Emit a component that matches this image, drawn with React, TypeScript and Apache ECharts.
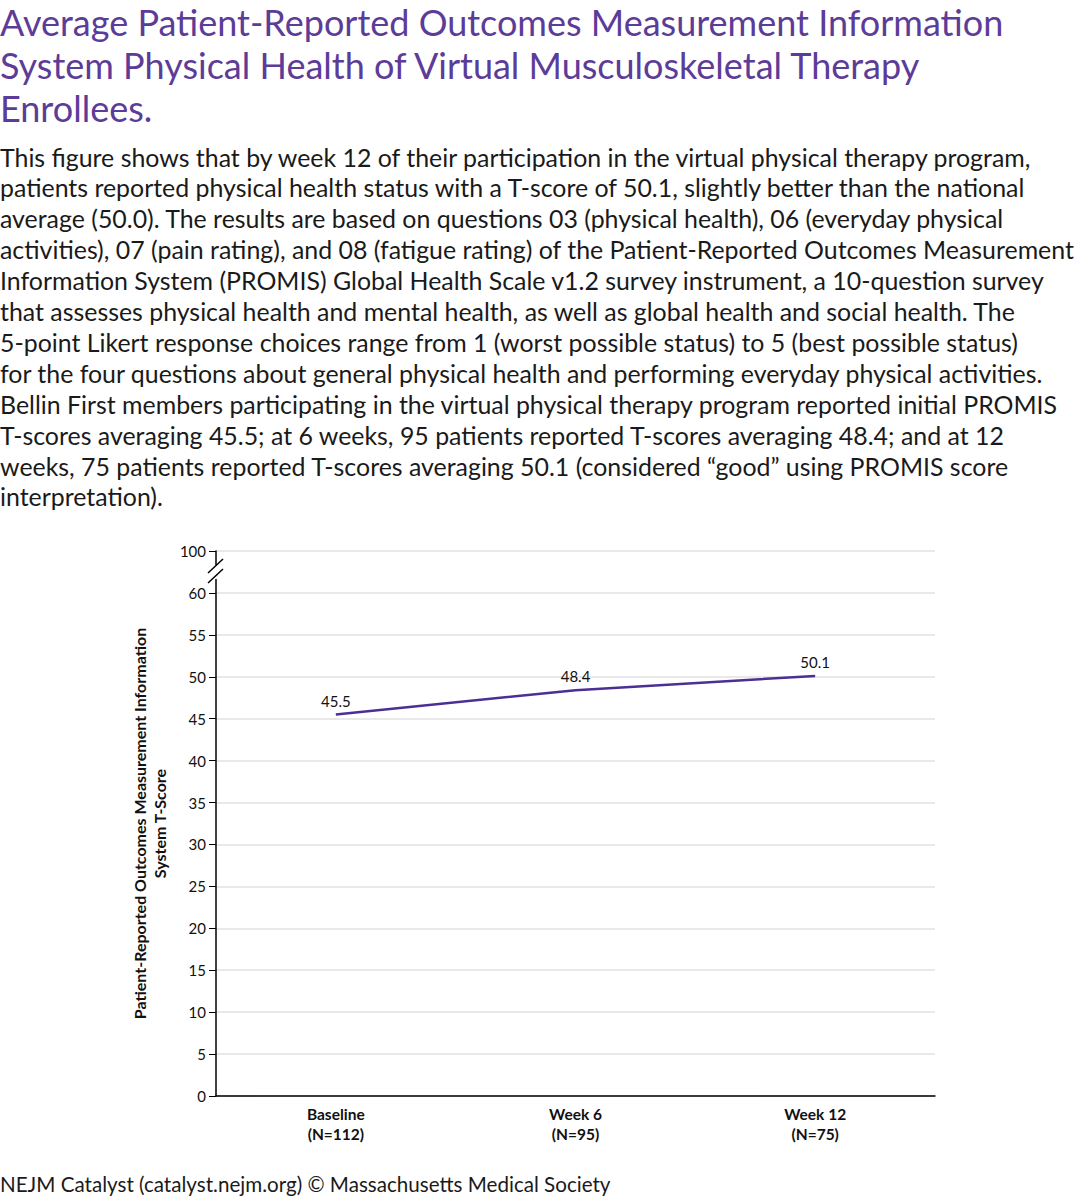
import React, { useEffect, useRef } from "react";
import * as echarts from "echarts";

const categories = ["Baseline\n(N=112)", "Week 6\n(N=95)", "Week 12\n(N=75)"];
const tScores = [45.5, 48.4, 50.1];
// axis values 0..65, where the top slot (65) is displayed as 100 after the axis break
const yTickLabels: Record<number, string> = { 65: "100" };

const titleLines = [
  "Average Patient-Reported Outcomes Measurement Information",
  "System Physical Health of Virtual Musculoskeletal Therapy",
  "Enrollees.",
];
const bodyLines = [
  "This figure shows that by week 12 of their participation in the virtual physical therapy program,",
  "patients reported physical health status with a T-score of 50.1, slightly better than the national",
  "average (50.0). The results are based on questions 03 (physical health), 06 (everyday physical",
  "activities), 07 (pain rating), and 08 (fatigue rating) of the Patient-Reported Outcomes Measurement",
  "Information System (PROMIS) Global Health Scale v1.2 survey instrument, a 10-question survey",
  "that assesses physical health and mental health, as well as global health and social health. The",
  "5-point Likert response choices range from 1 (worst possible status) to 5 (best possible status)",
  "for the four questions about general physical health and performing everyday physical activities.",
  "Bellin First members participating in the virtual physical therapy program reported initial PROMIS",
  "T-scores averaging 45.5; at 6 weeks, 95 patients reported T-scores averaging 48.4; and at 12",
  "weeks, 75 patients reported T-scores averaging 50.1 (considered \u201cgood\u201d using PROMIS score",
  "interpretation).",
];
const footer = "NEJM Catalyst (catalyst.nejm.org) \u00a9 Massachusetts Medical Society";
const yAxisName = "Patient-Reported Outcomes Measurement Information\nSystem T-Score";

const FONT = "Lato";
const PURPLE_TITLE = "#5c3c98";
const PURPLE_LINE = "#4a2f94";

export default function App() {
  const ref = useRef<HTMLDivElement>(null);
  useEffect(() => {
    if (!ref.current) return;
    const chart = echarts.init(ref.current, undefined, { renderer: "svg" });
    const textGraphics: any[] = [];
    titleLines.forEach((t, i) => {
      textGraphics.push({
        type: "text",
        left: 0,
        top: 4 + i * 43,
        style: { text: t, font: `36px ${FONT}`, fill: PURPLE_TITLE },
      });
    });
    bodyLines.forEach((t, i) => {
      textGraphics.push({
        type: "text",
        left: 0,
        top: 144 + i * 30.9,
        style: { text: t, font: `24.9px ${FONT}`, fill: "#1a1a1a" },
      });
    });
    textGraphics.push({
      type: "text",
      left: 0,
      top: 1173,
      style: { text: footer, font: `20.6px ${FONT}`, fill: "#1a1a1a" },
    });

    const option: any = {
      animation: false,
      backgroundColor: "#ffffff",
      textStyle: { fontFamily: FONT },
      grid: { left: 216, right: 144, top: 551, bottom: 104, containLabel: false },
      xAxis: {
        type: "category",
        data: categories,
        boundaryGap: true,
        axisLine: { lineStyle: { color: "#000", width: 1.5 } },
        axisTick: { alignWithLabel: true, length: 8, lineStyle: { color: "#000" } },
        axisLabel: {
          color: "#111",
          fontSize: 15.5,
          fontWeight: "bold",
          lineHeight: 20,
          margin: 8,
          fontFamily: FONT,
        },
        splitLine: { show: false },
      },
      yAxis: {
        type: "value",
        min: 0,
        max: 65,
        interval: 5,
        name: yAxisName,
        nameLocation: "middle",
        nameGap: 44,
        nameRotate: 90,
        nameTextStyle: { fontSize: 16, fontWeight: "bold", color: "#111", lineHeight: 20, fontFamily: FONT },
        axisLine: { show: true, lineStyle: { color: "#000", width: 1.5 } },
        axisTick: { show: true, length: 7, lineStyle: { color: "#000" } },
        axisLabel: {
          color: "#111",
          fontSize: 15,
          margin: 10,
          fontFamily: FONT,
          formatter: (v: number) => yTickLabels[v] ?? String(v),
        },
        splitLine: { show: true, lineStyle: { color: "#e2e2e2", width: 1.5 } },
      },
      series: [
        {
          type: "line",
          data: tScores,
          symbol: "circle",
          symbolSize: 1,
          showSymbol: true,
          itemStyle: { color: "rgba(0,0,0,0)" },
          lineStyle: { color: PURPLE_LINE, width: 2.5 },
          label: {
            show: true,
            position: "top",
            distance: 6,
            color: "#111",
            fontSize: 15,
            fontFamily: FONT,
            formatter: (p: any) => Number(p.value).toFixed(1),
          },
        },
      ],
      graphic: textGraphics,
    };
    chart.setOption(option);

    // axis break marks between 60 and 100
    const p60 = chart.convertToPixel({ yAxisIndex: 0 }, 60) as number;
    const p65 = chart.convertToPixel({ yAxisIndex: 0 }, 65) as number;
    const axisX = 216;
    const mid = (p60 + p65) / 2;
    const breakGraphics = [
      {
        type: "rect",
        shape: { x: axisX - 3, y: mid - 7, width: 6, height: 14 },
        style: { fill: "#fff" },
        z: 100,
      },
      {
        type: "line",
        shape: { x1: axisX - 8, y1: mid + 1, x2: axisX + 7, y2: mid - 13 },
        style: { stroke: "#000", lineWidth: 1.5 },
        z: 101,
      },
      {
        type: "line",
        shape: { x1: axisX - 8, y1: mid + 11, x2: axisX + 7, y2: mid - 3 },
        style: { stroke: "#000", lineWidth: 1.5 },
        z: 101,
      },
    ];
    chart.setOption({ graphic: [...textGraphics, ...breakGraphics] });

    return () => chart.dispose();
  }, []);
  return (
    <div
      ref={ref}
      style={{ position: "absolute", left: 0, top: 0, width: 1079, height: 1200 }}
    />
  );
}
